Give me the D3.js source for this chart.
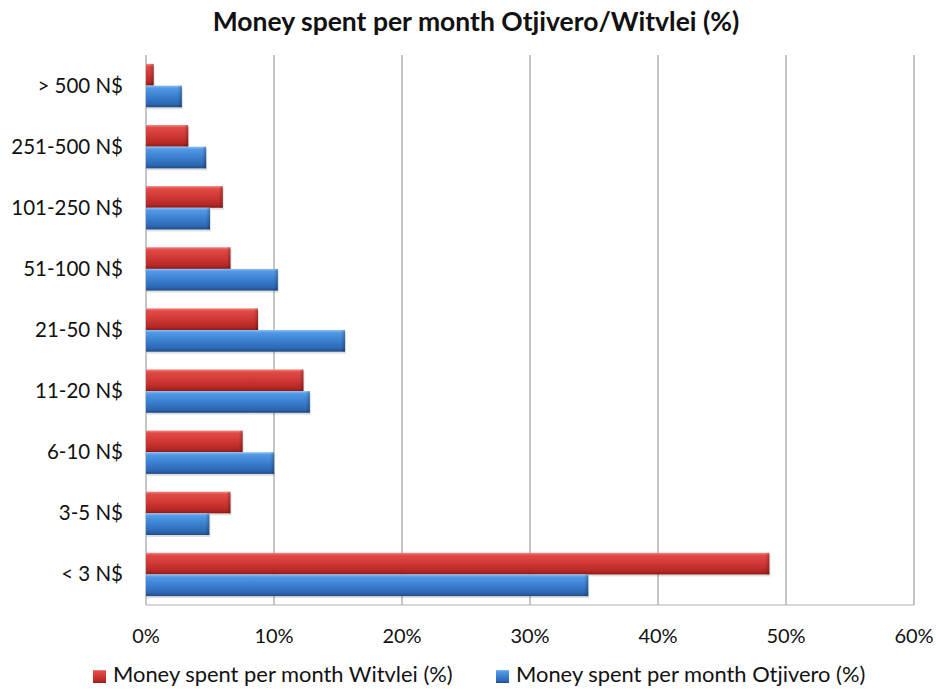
<!DOCTYPE html>
<html>
<head>
<meta charset="utf-8">
<script src="https://cdn.jsdelivr.net/npm/d3@7"></script>
<style>
  html, body { margin: 0; padding: 0; background: #fff; }
  svg { display: block; }
  text { font-family: Lato, "Open Sans", "Liberation Sans", sans-serif; fill: #111; }
</style>
</head>
<body>
<svg id="chart" width="936" height="689"></svg>
<script>
// Spending brackets, drawn top to bottom
const categories = ["> 500 N$", "251-500 N$", "101-250 N$", "51-100 N$", "21-50 N$", "11-20 N$", "6-10 N$", "3-5 N$", "< 3 N$"];
// Share of respondents (%) per bracket
const witvlei  = [0.6, 3.3, 6.0, 6.6, 8.75, 12.3, 7.55, 6.6, 48.7];
const otjivero = [2.8, 4.7, 5.0, 10.3, 15.55, 12.8, 10.0, 4.95, 34.55];
const seriesNames = ["Money spent per month Witvlei (%)", "Money spent per month Otjivero (%)"];
const xTicks = [0, 10, 20, 30, 40, 50, 60];
const title = "Money spent per month Otjivero/Witvlei (%)";

const svg = d3.select("#chart");
const margin = { left: 146, right: 22, top: 55, bottom: 84 };
const W = 936, H = 689;

const x = d3.scaleLinear().domain([0, 60]).range([margin.left, W - margin.right]);
const y = d3.scaleBand().domain(categories).range([margin.top, H - margin.bottom]).paddingInner(0.29).paddingOuter(0.145);
const sub = d3.scaleBand().domain([0, 1]).range([0, y.bandwidth()]);

// Bevelled fills
const defs = svg.append("defs");
function grad(id, stops) {
  const g = defs.append("linearGradient").attr("id", id).attr("x1", 0).attr("y1", 0).attr("x2", 0).attr("y2", 1);
  stops.forEach(([o, c]) => g.append("stop").attr("offset", o).attr("stop-color", c));
}
grad("gRed", [[0, "#f08a87"], [0.12, "#e24a46"], [0.5, "#cf3834"], [0.85, "#b52824"], [1, "#8a1a18"]]);
grad("gBlue", [[0, "#8fc0f4"], [0.12, "#5199e6"], [0.5, "#3a7fd0"], [0.85, "#2c67b3"], [1, "#1f4c86"]]);
const endGrad = defs.append("linearGradient").attr("id", "gEnd").attr("x1", 0).attr("x2", 1);
endGrad.append("stop").attr("offset", 0).attr("stop-color", "#000").attr("stop-opacity", 0);
endGrad.append("stop").attr("offset", 1).attr("stop-color", "#000").attr("stop-opacity", 0.25);

// Gridlines
svg.append("g").selectAll("line").data(xTicks.slice(1)).join("line")
  .attr("x1", d => x(d)).attr("x2", d => x(d))
  .attr("y1", margin.top).attr("y2", H - margin.bottom)
  .attr("stroke", "#8c8c8c").attr("stroke-width", 1);

// Axes lines
svg.append("line").attr("x1", x(0)).attr("x2", x(0)).attr("y1", margin.top).attr("y2", H - margin.bottom)
  .attr("stroke", "#8c8c8c");
svg.append("line").attr("x1", x(0)).attr("x2", x(60)).attr("y1", H - margin.bottom).attr("y2", H - margin.bottom)
  .attr("stroke", "#b0b0b0");

const series = [
  { vals: witvlei, fill: "url(#gRed)" },
  { vals: otjivero, fill: "url(#gBlue)" }
];

series.forEach((s, si) => {
  const g = svg.append("g");
  const rows = categories.map((c, i) => ({ c, v: s.vals[i] }));
  // soft shadow
  g.selectAll("rect.sh").data(rows).join("rect")
    .attr("x", x(0) + 1).attr("y", d => y(d.c) + sub(si) + 2)
    .attr("width", d => x(d.v) - x(0)).attr("height", sub.bandwidth())
    .attr("fill", "#000").attr("opacity", 0.12);
  g.selectAll("rect.bar").data(rows).join("rect")
    .attr("x", x(0)).attr("y", d => y(d.c) + sub(si))
    .attr("width", d => x(d.v) - x(0)).attr("height", sub.bandwidth())
    .attr("fill", s.fill);
  // darker right cap
  g.selectAll("rect.cap").data(rows).join("rect")
    .attr("x", d => Math.max(x(0), x(d.v) - 4)).attr("y", d => y(d.c) + sub(si))
    .attr("width", d => Math.min(4, x(d.v) - x(0))).attr("height", sub.bandwidth())
    .attr("fill", "url(#gEnd)");
});

// Category labels
svg.append("g").selectAll("text").data(categories).join("text")
  .attr("x", 123).attr("y", d => y(d) + y.bandwidth() / 2 + 7)
  .attr("text-anchor", "end")
  .attr("font-size", 20.5).text(d => d);

// Tick labels
svg.append("g").selectAll("text").data(xTicks).join("text")
  .attr("x", d => x(d)).attr("y", 643)
  .attr("text-anchor", "middle")
  .attr("font-size", 20).text(d => d + "%");

// Title
svg.append("text").attr("x", 476).attr("y", 31)
  .attr("text-anchor", "middle")
  .attr("font-size", 26.5).attr("font-weight", "bold").text(title);

// Legend
const legend = [
  { x: 93, fill: "url(#gRed)", name: seriesNames[0] },
  { x: 496, fill: "url(#gBlue)", name: seriesNames[1] }
];
const lg = svg.append("g").selectAll("g").data(legend).join("g")
  .attr("transform", d => `translate(${d.x},0)`);
lg.append("rect").attr("x", 0).attr("y", 670).attr("width", 13).attr("height", 13).attr("fill", d => d.fill);
lg.append("text").attr("x", 20).attr("y", 682)
  .attr("font-size", 21.9).text(d => d.name);
</script>
</body>
</html>
